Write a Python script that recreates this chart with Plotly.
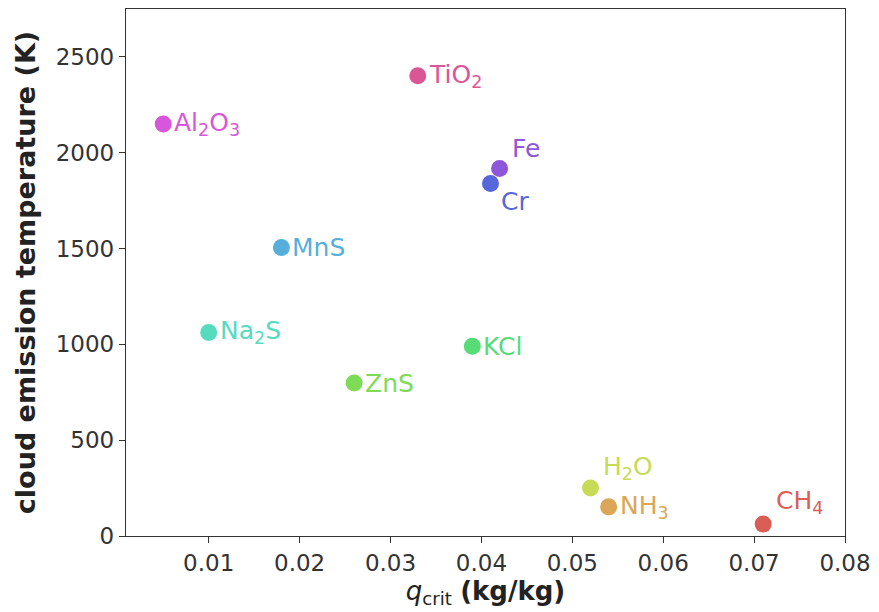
import colorsys
import plotly.graph_objects as go

species = ["CH4", "NH3", "H2O", "ZnS", "KCl", "Na2S", "MnS", "Cr", "Fe", "Al2O3", "TiO2"]
labels = ["CH<sub>4</sub>", "NH<sub>3</sub>", "H<sub>2</sub>O", "ZnS", "KCl", "Na<sub>2</sub>S",
          "MnS", "Cr", "Fe", "Al<sub>2</sub>O<sub>3</sub>", "TiO<sub>2</sub>"]
q_crit = [0.071, 0.054, 0.052, 0.026, 0.039, 0.010, 0.018, 0.041, 0.042, 0.005, 0.033]
t_emit = [62, 152, 250, 798, 990, 1062, 1505, 1840, 1918, 2150, 2402]
# label offsets in pixels (dx, dy) -- style
offsets = [(11, 22), (9, 0), (11, 20), (9, 0), (9, 0), (9, 0), (9, 0), (8, -18), (10, 20), (9, 0), (9, 0)]

n = len(species)
colors = []
for i in range(n):
    h = (i / n + 0.01) % 1.0
    r, g, b = colorsys.hls_to_rgb(h, 0.6, 0.65)
    colors.append("#%02x%02x%02x" % (int(r * 255), int(g * 255), int(b * 255)))

fig = go.Figure()
for i in range(n):
    fig.add_trace(go.Scatter(x=[q_crit[i]], y=[t_emit[i]], mode="markers",
                             marker=dict(size=17, color=colors[i], line=dict(width=0)),
                             showlegend=False, cliponaxis=False))
    dx, dy = offsets[i]
    fig.add_annotation(x=q_crit[i], y=t_emit[i], text=labels[i], showarrow=False,
                       xanchor="left", yanchor="middle", xshift=dx, yshift=dy,
                       font=dict(family="DejaVu Sans", size=25, color=colors[i]))

axis_common = dict(showline=True, linecolor="#333333", linewidth=1.3, mirror=True,
                   ticks="outside", ticklen=6, tickwidth=1.3, tickcolor="#333333",
                   showgrid=False, zeroline=False,
                   tickfont=dict(family="DejaVu Sans", size=23, color="#333333"))

fig.update_layout(
    width=879, height=612,
    margin=dict(l=126, r=31, t=8, b=76),
    paper_bgcolor="white", plot_bgcolor="white",
    xaxis=dict(range=[0.0009, 0.08], tickvals=[0.01, 0.02, 0.03, 0.04, 0.05, 0.06, 0.07, 0.08],
               ticktext=["0.01", "0.02", "0.03", "0.04", "0.05", "0.06", "0.07", "0.08"],
               title=dict(text="<i>q</i><sub>crit</sub> <b>(kg/kg)</b>",
                          font=dict(family="DejaVu Sans", size=26, color="#222222"), standoff=4),
               **axis_common),
    yaxis=dict(range=[0, 2750], tickvals=[0, 500, 1000, 1500, 2000, 2500],
               title=dict(text="<b>cloud emission temperature (K)</b>",
                          font=dict(family="DejaVu Sans", size=27, color="#222222"), standoff=12),
               **axis_common),
)

fig.write_html("out.html")
